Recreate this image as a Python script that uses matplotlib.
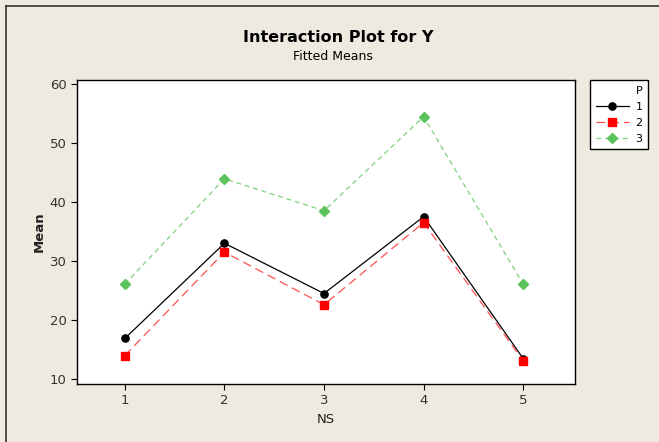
import matplotlib
matplotlib.use("Agg")
import matplotlib.pyplot as plt
from matplotlib.lines import Line2D

ns = [1, 2, 3, 4, 5]
p_levels = ["1", "2", "3"]
mean_p1 = [16.9, 33.0, 24.5, 37.5, 13.5]
mean_p2 = [14.0, 31.5, 22.6, 36.5, 13.1]
mean_p3 = [26.1, 43.9, 38.5, 54.4, 26.1]

plt.rcParams['font.family'] = ['DejaVu Sans']
bg = '#EEEAE0'
fig = plt.figure(figsize=(6.59, 4.42), dpi=100, facecolor=bg)
ax = fig.add_axes([77/659, 1-384/442, (575-77)/659, (384-80)/442])
ax.set_facecolor('white')

styles = [
    dict(color='black', ls='-', marker='o', mfc='black', mec='black', ms=5.2, lw=0.9),
    dict(color='#FF5050', ls=(0, (7, 4)), marker='s', mfc='#FF0000', mec='#FF0000', ms=5.6, lw=0.9),
    dict(color='#7ED07E', ls=(0, (4, 3)), marker='D', mfc='#5CC25C', mec='#5CC25C', ms=5.0, lw=0.9),
]
series = [mean_p1, mean_p2, mean_p3]
handles = []
for lab, vals, st in zip(p_levels, series, styles):
    h, = ax.plot(ns, vals, label=lab, **st)
    handles.append(h)

ax.set_xlim(0.52, 5.52)
ax.set_ylim(9.2, 60.6)
ax.set_xticks(ns)
ax.set_yticks([10, 20, 30, 40, 50, 60])
for s in ax.spines.values():
    s.set_linewidth(1.0)
    s.set_color('black')
ax.tick_params(direction='out', length=4, width=0.8, labelsize=9.5, labelcolor='#333333', color='black')
ax.set_xlabel('NS', fontsize=9.5, color='#222222', labelpad=4)
ax.set_ylabel('Mean', fontsize=9.5, fontweight='bold', color='#222222', labelpad=3)

fig.text(338/659, 1-37/442, 'Interaction Plot for Y', ha='center', va='center',
         fontsize=11.5, fontweight='bold', color='black')
fig.text(333/659, 1-57/442, 'Fitted Means', ha='center', va='center',
         fontsize=9, color='black')

leg = fig.legend(handles=handles, labels=p_levels, title='P',
                 loc='upper left', bbox_to_anchor=(590/659, 1-80/442), borderaxespad=0,
                 frameon=True, fancybox=False, fontsize=8, title_fontsize=8,
                 handlelength=3.0, handletextpad=0.6, borderpad=0.5,
                 labelspacing=0.55, markerfirst=True, framealpha=1.0)
leg.get_frame().set_edgecolor('black')
leg.get_frame().set_facecolor('white')
leg.get_frame().set_linewidth(1.0)
leg._legend_box.align = 'right'

# screenshot border lines
fig.add_artist(Line2D([6/659, 6/659], [0, 1-6/442], color='#333333', lw=1.2))
fig.add_artist(Line2D([6/659, 1], [1-6/442, 1-6/442], color='#333333', lw=1.2))

fig.savefig('out.png', dpi=100, facecolor=bg)
